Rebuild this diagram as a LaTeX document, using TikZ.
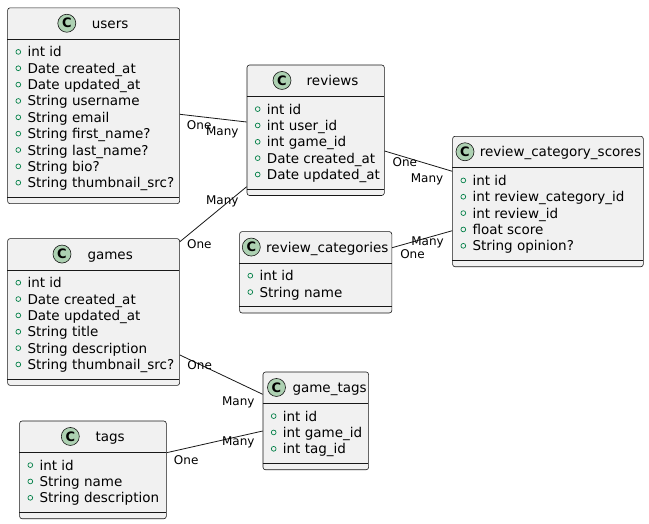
\documentclass[tikz,border=0pt]{standalone}
\usepackage{fontspec}
\setmainfont{DejaVu Sans}
\definecolor{boxfill}{HTML}{F1F1F1}
\definecolor{boxline}{HTML}{181818}
\definecolor{circfill}{HTML}{ADD1B2}
\definecolor{bulletgreen}{HTML}{038048}
\tikzset{
 classbox/.style={draw=boxline, fill=boxfill, line width=0.6pt, rounded corners=2.5pt, inner sep=0pt, anchor=north west},
 divline/.style={draw=boxline, line width=0.6pt},
 cbadge/.style={circle, draw=boxline, fill=circfill, line width=0.6pt, minimum size=18pt, inner sep=0pt, font=\fontsize{13}{13}\selectfont\bfseries},
 ctitle/.style={inner sep=0pt, anchor=base west, font=\fontsize{13.5}{16}\selectfont},
 member/.style={inner sep=0pt, anchor=base west, font=\fontsize{13.5}{16}\selectfont},
 bullet/.style={draw=bulletgreen, line width=0.7pt},
 rel/.style={draw=boxline, line width=0.8pt},
 card/.style={inner sep=0pt, anchor=base, font=\fontsize{12}{14}\selectfont},
}
\newcommand\umlclass[9]{%
 \pgfmathsetmacro\clsW{#4-#2}%
 \pgfmathsetmacro\clsH{48.7+16.35*#5}%
 \pgfmathsetmacro\clsHd{#3+31.5}%
 \pgfmathsetmacro\clsDv{#3+42.7+16.35*#5}%
 \pgfmathsetmacro\clsMid{#3+15.75}%
 \pgfmathsetmacro\clsTb{#3+20.75}%
 \node[classbox, minimum width=\clsW pt, minimum height=\clsH pt] (#1) at (#2,#3) {};
 \draw[divline] (#2,\clsHd) -- (#4,\clsHd);
 \draw[divline] (#2,\clsDv) -- (#4,\clsDv);
 \node[cbadge] (#1-c) at (#6,\clsMid) {C};
 \node[ctitle] (#1-t) at (#7,\clsTb) {#8};
 \foreach \mtext [count=\mi from 0] in {#9} {
   \pgfmathsetmacro\my{#3+49.4+16.35*\mi}
   \pgfmathsetmacro\by{#3+44.4+16.35*\mi}
   \draw[bullet] (#2+11,\by) circle (2.4pt);
   \node[member] (#1-m\mi) at (#2+20,\my) {\mtext};
 }
}
\begin{document}
\begin{tikzpicture}[x=1pt,y=-1pt]
\useasboundingbox[fill=white] (0,0) rectangle (649,523);

\umlclass{users}{7.3}{7.5}{179.3}{9}{66.8}{91.7}{users}{int id, Date created\_at, Date updated\_at, String username, String email, String first\_name?, String last\_name?, String bio?, String thumbnail\_src?}
\umlclass{reviews}{246.7}{64.7}{384}{5}{282}{306.5}{reviews}{int id, int user\_id, int game\_id, Date created\_at, Date updated\_at}
\umlclass{rcs}{452.3}{136}{643}{5}{465}{479.7}{review\_category\_scores}{int id, int review\_category\_id, int review\_id, float score, String opinion?}
\umlclass{rcat}{239.3}{231.3}{391.5}{2}{251.3}{266}{review\_categories}{int id, String name}
\umlclass{games}{7.3}{238.3}{179.3}{6}{62}{87.3}{games}{int id, Date created\_at, Date updated\_at, String title, String description, String thumbnail\_src?}
\umlclass{gametags}{262.7}{371.7}{368.3}{3}{276.5}{292.3}{game\_tags}{int id, int game\_id, int tag\_id}
\umlclass{tags}{19.3}{420.7}{166}{3}{70.3}{95.3}{tags}{int id, String name, String description}

\draw[rel] ([yshift=-106.8pt]users.north east) -- ([yshift=-57.3pt]reviews.north west);
\draw[rel] ([yshift=-3.4pt]games.north east) -- ([yshift=-122pt]reviews.north west);
\draw[rel] ([yshift=-86.3pt]reviews.north east) -- ([yshift=-35.3pt]rcs.north west);
\draw[rel] ([yshift=-16.4pt]rcat.north east) -- ([yshift=-94.7pt]rcs.north west);
\draw[rel] ([yshift=-116.7pt]games.north east) -- ([yshift=-22.6pt]gametags.north west);
\draw[rel] ([yshift=-32pt]tags.north east) -- ([yshift=-59.3pt]gametags.north west);

\node[card] (l1a) at (199.2,129.3) {One};
\node[card] (l1b) at (222.3,135) {Many};
\node[card] (l2a) at (222.3,204.3) {Many};
\node[card] (l2b) at (199.3,248.6) {One};
\node[card] (l3a) at (404.8,166.6) {One};
\node[card] (l3b) at (427,182.6) {Many};
\node[card] (l4a) at (427.5,245.3) {Many};
\node[card] (l4b) at (412.5,258.6) {One};
\node[card] (l5a) at (199.7,369.3) {One};
\node[card] (l5b) at (238.3,405) {Many};
\node[card] (l6a) at (238.3,445.3) {Many};
\node[card] (l6b) at (186.2,464.3) {One};
\end{tikzpicture}
\end{document}
